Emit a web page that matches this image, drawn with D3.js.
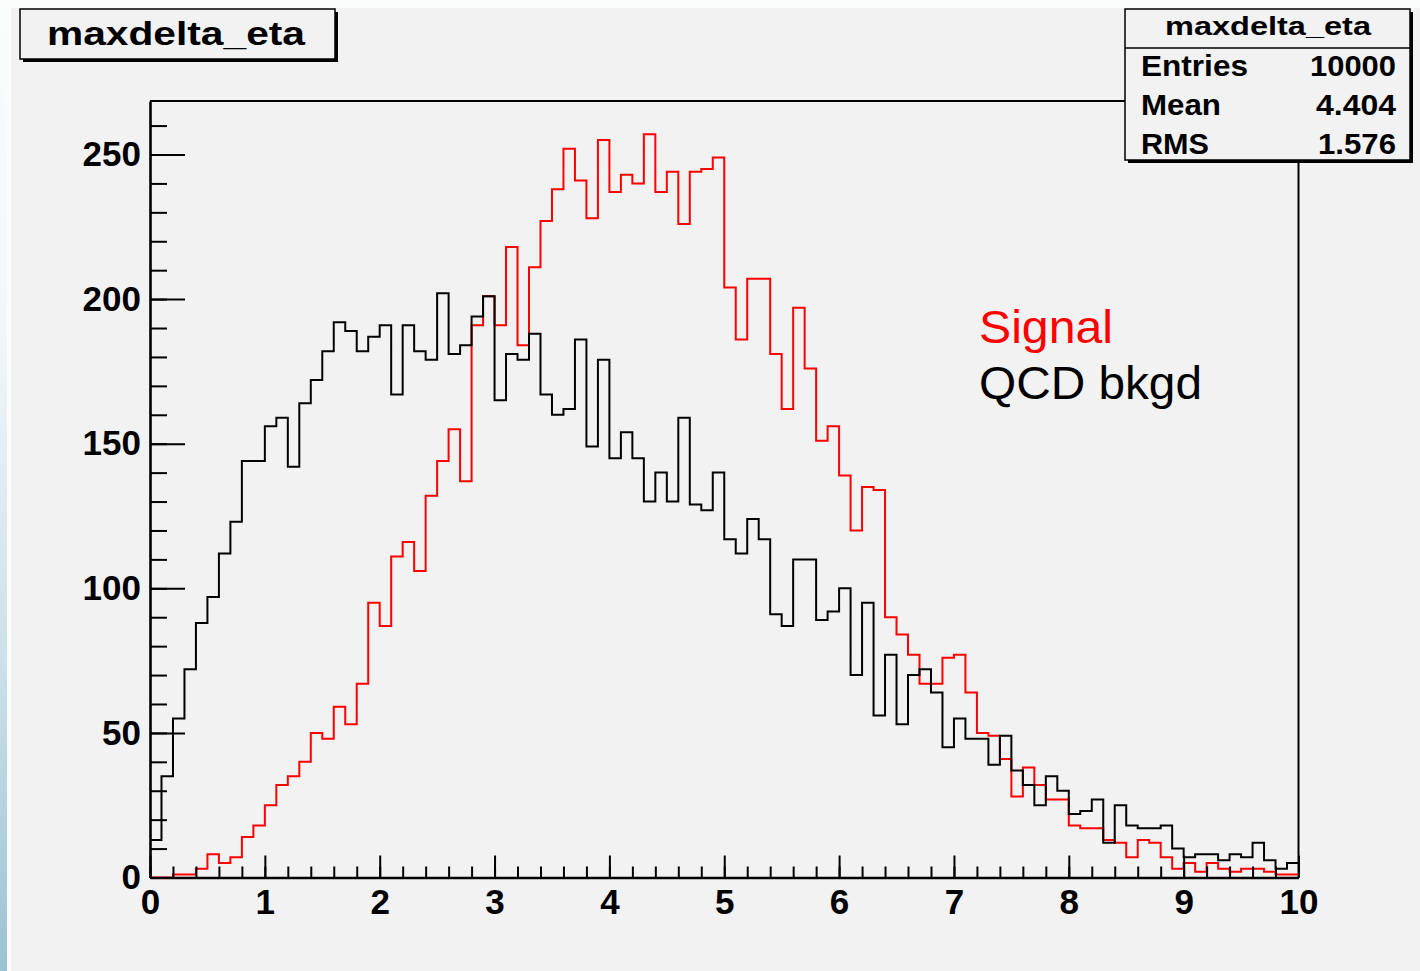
<!DOCTYPE html>
<html>
<head>
<meta charset="utf-8">
<script src="https://cdn.jsdelivr.net/npm/d3@7"></script>
<style>
  html, body { margin: 0; padding: 0; background: #fbfcfc; }
  svg { display: block; }
</style>
</head>
<body>
<svg id="chart" width="1420" height="971"></svg>
<script>
// Histogram definition: 100 bins over [0, 10]
const histTitle = "maxdelta_eta";
const nBins = 100;
const xMin = 0;
const xMax = 10;

// Bin contents, signal sample (red)
const signalCounts = [
  0, 0, 1, 1, 3, 8, 5, 7, 14, 18,
  25, 32, 35, 40, 50, 48, 59, 53, 67, 95,
  87, 111, 116, 106, 132, 144, 155, 137, 191, 201,
  191, 218, 184, 211, 227, 238, 252, 241, 228, 255,
  237, 243, 240, 257, 237, 244, 226, 244, 245, 249,
  204, 186, 207, 207, 181, 162, 197, 176, 151, 156,
  139, 120, 135, 134, 90, 84, 77, 67, 67, 76,
  77, 64, 50, 49, 41, 28, 38, 32, 27, 27,
  18, 17, 17, 13, 12, 7, 13, 12, 7, 3,
  5, 2, 5, 3, 2, 3, 3, 2, 1, 1
];

// Bin contents, QCD background sample (black)
const qcdCounts = [
  13, 35, 55, 72, 88, 97, 112, 123, 144, 144,
  156, 159, 142, 164, 172, 182, 192, 189, 182, 187,
  191, 167, 191, 182, 179, 202, 181, 184, 194, 201,
  165, 181, 179, 188, 167, 160, 162, 186, 149, 179,
  145, 154, 145, 130, 140, 130, 159, 129, 127, 140,
  117, 112, 124, 117, 91, 87, 110, 110, 89, 92,
  100, 70, 95, 56, 77, 53, 70, 72, 64, 45,
  55, 48, 48, 39, 49, 37, 32, 25, 35, 30,
  22, 23, 27, 12, 25, 18, 17, 17, 18, 10,
  7, 8, 8, 6, 8, 7, 12, 6, 3, 5
];

// Statistics box entries
const statNames = ["Entries", "Mean", "RMS"];
const statValues = ["10000", "4.404", "1.576"];

// Legend lines
const legendLabels = ["Signal", "QCD bkgd"];
const legendColors = ["#ff0000", "#000000"];

// Axis ticks
const yMajorTicks = [0, 50, 100, 150, 200, 250];
const yMinorTicks = [0, 10, 20, 30, 40, 50, 60, 70, 80, 90, 100, 110, 120, 130, 140, 150,
                     160, 170, 180, 190, 200, 210, 220, 230, 240, 250, 260];
const xMajorTicks = [0, 1, 2, 3, 4, 5, 6, 7, 8, 9, 10];
const xMinorTicks = [0, 0.2, 0.4, 0.6, 0.8, 1, 1.2, 1.4, 1.6, 1.8, 2, 2.2, 2.4, 2.6, 2.8, 3,
                     3.2, 3.4, 3.6, 3.8, 4, 4.2, 4.4, 4.6, 4.8, 5, 5.2, 5.4, 5.6, 5.8, 6,
                     6.2, 6.4, 6.6, 6.8, 7, 7.2, 7.4, 7.6, 7.8, 8, 8.2, 8.4, 8.6, 8.8, 9,
                     9.2, 9.4, 9.6, 9.8, 10];

const W = 1420, H = 971;
const frame = { left: 150, right: 1298.5, top: 101, bottom: 877.5 };
const PAD = "#f2f2f2";
const FONT = "'Liberation Sans', Arial, Helvetica, sans-serif";

const svg = d3.select("#chart");

// Page background with blue edge strip on the left
const defs = svg.append("defs");
const grad = defs.append("linearGradient")
  .attr("id", "edgeBlue").attr("x1", 0).attr("y1", 0).attr("x2", 0).attr("y2", 1);
grad.append("stop").attr("offset", "0%").attr("stop-color", "#fbfcfc");
grad.append("stop").attr("offset", "35%").attr("stop-color", "#f1f6f8");
grad.append("stop").attr("offset", "70%").attr("stop-color", "#c9dfe8");
grad.append("stop").attr("offset", "100%").attr("stop-color", "#9cc2d3");

svg.append("rect").attr("x", 0).attr("y", 0).attr("width", W).attr("height", H).attr("fill", "#fbfcfc");
svg.append("rect").attr("x", 0).attr("y", 0).attr("width", 7).attr("height", H).attr("fill", "url(#edgeBlue)");
svg.append("rect").attr("x", 11).attr("y", 8).attr("width", W - 11).attr("height", H - 8).attr("fill", PAD);

// Scales
const x = d3.scaleLinear().domain([xMin, xMax]).range([frame.left, frame.right]);
const y = d3.scaleLinear().domain([0, 268.5]).range([frame.bottom, frame.top]);

// Frame: top and right edges
svg.append("path")
  .attr("d", `M${frame.left},${frame.top}H${frame.right}V${frame.bottom}`)
  .attr("fill", "none").attr("stroke", "#000").attr("stroke-width", 2);

// Histogram outline as a step path through bin low edges
const binWidth = (xMax - xMin) / nBins;
function stepPoints(counts) {
  const pts = counts.map((c, i) => [xMin + i * binWidth, c]);
  pts.push([xMax, counts[counts.length - 1]]);
  return pts;
}
const stepLine = d3.line()
  .x(d => x(d[0]))
  .y(d => y(d[1]))
  .curve(d3.curveStepAfter);

svg.append("path")
  .datum(stepPoints(signalCounts))
  .attr("d", stepLine)
  .attr("fill", "none")
  .attr("stroke", "#ff0000")
  .attr("stroke-width", 2);

// Axes
const axisStyle = g => {
  g.selectAll("path.domain").attr("stroke", "#000").attr("stroke-width", 2.6);
  g.selectAll(".tick line").attr("stroke", "#000").attr("stroke-width", 2);
  g.selectAll(".tick text")
    .attr("fill", "#000")
    .style("font-family", FONT)
    .style("font-weight", "bold")
    .style("font-size", "35px");
};

// y axis: minor then major ticks, pointing into the frame
svg.append("g")
  .attr("transform", `translate(${frame.left},0)`)
  .call(d3.axisLeft(y).tickValues(yMinorTicks).tickSize(-17).tickSizeOuter(0).tickFormat(""))
  .call(axisStyle);
svg.append("g")
  .attr("transform", `translate(${frame.left},0)`)
  .call(d3.axisLeft(y).tickValues(yMajorTicks).tickSize(-35).tickSizeOuter(0).tickPadding(9).tickFormat(d3.format("d")))
  .call(axisStyle)
  .call(g => g.select("path.domain").remove());

// x axis
svg.append("g")
  .attr("transform", `translate(0,${frame.bottom})`)
  .call(d3.axisBottom(x).tickValues(xMinorTicks).tickSize(-11).tickSizeOuter(0).tickFormat(""))
  .call(axisStyle);
svg.append("g")
  .attr("transform", `translate(0,${frame.bottom})`)
  .call(d3.axisBottom(x).tickValues(xMajorTicks).tickSize(-22).tickSizeOuter(0).tickPadding(12).tickFormat(d3.format("d")))
  .call(axisStyle)
  .call(g => g.select("path.domain").remove());

// Background histogram drawn on top
svg.append("path")
  .datum(stepPoints(qcdCounts))
  .attr("d", stepLine)
  .attr("fill", "none")
  .attr("stroke", "#000")
  .attr("stroke-width", 2);

// Boxed label helper with drop shadow
function shadowBox(bx, by, bw, bh) {
  svg.append("rect").attr("x", bx + 3).attr("y", by + 3).attr("width", bw).attr("height", bh).attr("fill", "#000");
  svg.append("rect").attr("x", bx).attr("y", by).attr("width", bw).attr("height", bh)
    .attr("fill", PAD).attr("stroke", "#000").attr("stroke-width", 1.5);
}

// Statistics box
const sb = { x: 1125, y: 9, w: 285, h: 151 };
shadowBox(sb.x, sb.y, sb.w, sb.h);
svg.append("line").attr("x1", sb.x).attr("x2", sb.x + sb.w).attr("y1", 48).attr("y2", 48)
  .attr("stroke", "#000").attr("stroke-width", 1.5);
svg.append("text")
  .attr("x", 1268).attr("y", 35)
  .attr("text-anchor", "middle")
  .attr("textLength", 206).attr("lengthAdjust", "spacingAndGlyphs")
  .style("font-family", FONT).style("font-weight", "bold").style("font-size", "25px")
  .text(histTitle);
const rowBase = [76, 115, 154];
const nameWidths = [107, 80, 68];
const valueWidths = [86, 80, 78];
statNames.forEach((n, i) => {
  svg.append("text")
    .attr("x", 1141).attr("y", rowBase[i])
    .attr("textLength", nameWidths[i]).attr("lengthAdjust", "spacingAndGlyphs")
    .style("font-family", FONT).style("font-weight", "bold").style("font-size", "29px")
    .text(n);
  svg.append("text")
    .attr("x", 1396).attr("y", rowBase[i])
    .attr("text-anchor", "end")
    .attr("textLength", valueWidths[i]).attr("lengthAdjust", "spacingAndGlyphs")
    .style("font-family", FONT).style("font-weight", "bold").style("font-size", "29px")
    .text(statValues[i]);
});

// Title box
shadowBox(20, 9, 315, 50);
svg.append("text")
  .attr("x", 176).attr("y", 45)
  .attr("text-anchor", "middle")
  .attr("textLength", 258).attr("lengthAdjust", "spacingAndGlyphs")
  .style("font-family", FONT).style("font-weight", "bold").style("font-size", "34px")
  .text(histTitle);

// Legend text
const legendBase = [343, 399];
const legendWidths = [134, 223];
legendLabels.forEach((t, i) => {
  svg.append("text")
    .attr("x", 979).attr("y", legendBase[i])
    .attr("fill", legendColors[i])
    .attr("textLength", legendWidths[i]).attr("lengthAdjust", "spacingAndGlyphs")
    .style("font-family", FONT).style("font-size", "47px")
    .text(t);
});
</script>
</body>
</html>
